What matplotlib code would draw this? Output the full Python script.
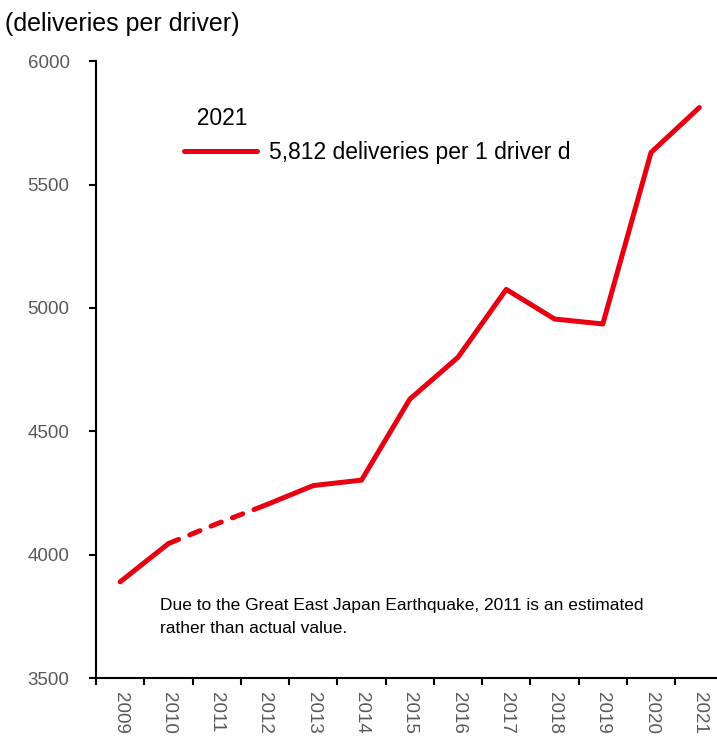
import matplotlib
matplotlib.use("Agg")
import matplotlib.pyplot as plt

plt.rcParams['font.family'] = ['Liberation Sans', 'DejaVu Sans']

years = ['2009', '2010', '2011', '2012', '2013', '2014', '2015',
         '2016', '2017', '2018', '2019', '2020', '2021']
deliveries = [3890, 4045, 4125, 4200, 4280, 4302, 4630,
              4800, 5075, 4955, 4935, 5630, 5812]

red = '#E60012'
grey = '#595959'

fig = plt.figure(figsize=(7.17, 7.37), dpi=100)
ax = fig.add_axes([0.134, 0.080, 0.875, 0.837])

x = list(range(len(years)))
# 2011 is an estimate -> dashed segment from 2010 to 2012
ax.plot(x[:2], deliveries[:2], color=red, lw=3.6, solid_capstyle='round')
ax.plot(x[1:4], deliveries[1:4], color=red, lw=3.6, linestyle=(0, (2.2, 2.4)),
        dash_capstyle='round')
ax.plot(x[3:], deliveries[3:], color=red, lw=3.6, solid_capstyle='round',
        solid_joinstyle='round', label='5,812 deliveries per 1 driver d')

ax.set_ylim(3500, 6000)
ax.set_yticks([3500, 4000, 4500, 5000, 5500, 6000])
ax.set_xlim(-0.5, len(years) - 0.5)
ax.set_xticks([i - 0.5 for i in range(len(years) + 1)])
ax.set_xticklabels([])
ax.set_xticks(x, minor=True)
ax.set_xticklabels(years, minor=True, rotation=270)
ax.tick_params(axis='x', which='minor', length=0, pad=10, labelsize=13.5, labelcolor=grey)
ax.tick_params(axis='x', which='major', length=5, width=1.5, direction='out')
ax.tick_params(axis='y', length=5, width=1.5, pad=14, labelsize=13.5, labelcolor=grey)

for s in ['top', 'right']:
    ax.spines[s].set_visible(False)
for s in ['left', 'bottom']:
    ax.spines[s].set_linewidth(1.5)

fig.text(0.007, 0.968, '(deliveries per driver)', fontsize=18, va='center', ha='left')

leg = ax.legend(loc='upper left', bbox_to_anchor=(0.14, 0.926), frameon=False,
                title='  2021', fontsize=16.5, title_fontsize=16.5, handlelength=3.2,
                handletextpad=0.5, borderpad=0, borderaxespad=0, alignment='left')

ax.text(0.102, 0.129, 'Due to the Great East Japan Earthquake, 2011 is an estimated\nrather than actual value.',
        transform=ax.transAxes, fontsize=12.5, va='top', ha='left', linespacing=1.65)

fig.savefig('out.png', dpi=100)
